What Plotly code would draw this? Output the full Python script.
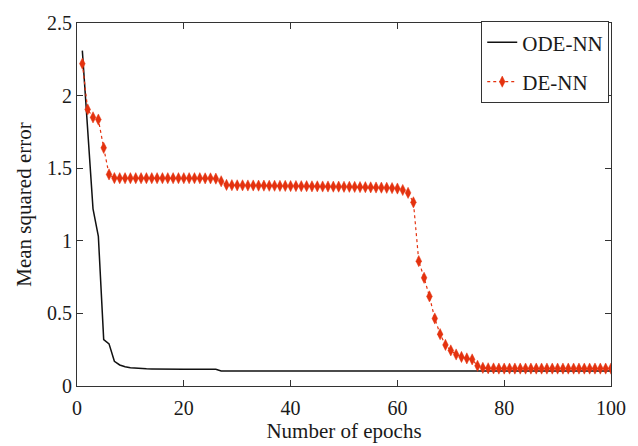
import plotly.graph_objects as go

epochs = list(range(1, 101))

ode_nn = [
    2.31, 1.77, 1.22, 1.03, 0.32, 0.29, 0.17, 0.145, 0.132, 0.125,
    0.121, 0.119, 0.118, 0.117, 0.116, 0.115, 0.115, 0.115, 0.115, 0.115,
    0.115, 0.115, 0.115, 0.115, 0.115, 0.115, 0.104, 0.104, 0.104, 0.104,
    0.104, 0.104, 0.104, 0.104, 0.104, 0.104, 0.104, 0.104, 0.104, 0.104,
    0.104, 0.104, 0.104, 0.104, 0.104, 0.104, 0.104, 0.104, 0.104, 0.104,
    0.104, 0.104, 0.104, 0.104, 0.104, 0.104, 0.104, 0.104, 0.104, 0.104,
    0.104, 0.104, 0.104, 0.104, 0.104, 0.104, 0.104, 0.104, 0.104, 0.104,
    0.104, 0.104, 0.104, 0.104, 0.104, 0.104, 0.104, 0.104, 0.104, 0.104,
    0.104, 0.104, 0.104, 0.104, 0.104, 0.104, 0.104, 0.104, 0.104, 0.104,
    0.104, 0.104, 0.104, 0.104, 0.104, 0.104, 0.104, 0.104, 0.104, 0.104,
]

de_nn = [
    2.22, 1.905, 1.85, 1.835, 1.64, 1.457, 1.432, 1.431, 1.431, 1.431,
    1.431, 1.431, 1.431, 1.431, 1.431, 1.431, 1.431, 1.431, 1.431, 1.431,
    1.431, 1.431, 1.431, 1.430, 1.430, 1.428, 1.410, 1.385, 1.383, 1.382,
    1.382, 1.381, 1.381, 1.380, 1.380, 1.379, 1.379, 1.378, 1.378, 1.377,
    1.377, 1.376, 1.376, 1.375, 1.375, 1.374, 1.374, 1.373, 1.373, 1.372,
    1.372, 1.371, 1.370, 1.369, 1.368, 1.367, 1.366, 1.365, 1.363, 1.360,
    1.350, 1.330, 1.265, 0.860, 0.745, 0.617, 0.465, 0.357, 0.283, 0.245,
    0.217, 0.200, 0.190, 0.183, 0.139, 0.125, 0.122, 0.121, 0.120, 0.120,
    0.120, 0.120, 0.120, 0.120, 0.120, 0.120, 0.120, 0.120, 0.120, 0.120,
    0.120, 0.120, 0.120, 0.120, 0.120, 0.120, 0.120, 0.120, 0.120, 0.120,
]

x_ticks = [0, 20, 40, 60, 80, 100]
y_ticks = [0, 0.5, 1, 1.5, 2, 2.5]
y_tick_text = ["0", "0.5", "1", "1.5", "2", "2.5"]

FONT = "Liberation Serif, Times New Roman, serif"
RED = "#E4320F"

fig = go.Figure()
fig.add_trace(go.Scatter(
    x=epochs, y=ode_nn, mode="lines", name="ODE-NN",
    line=dict(color="#111111", width=1.5), legendgroup="a",
))
fig.add_trace(go.Scatter(
    x=epochs, y=de_nn, mode="lines+markers", name="DE-NN",
    line=dict(color=RED, width=1.2, dash="dot"),
    marker=dict(symbol="diamond-tall", size=8, color=RED,
                line=dict(color=RED, width=0.5)),
    legendgroup="b",
))

axis_common = dict(
    showline=True, linecolor="#333333", linewidth=1.2, mirror="ticks",
    ticks="inside", ticklen=6, tickcolor="#333333", tickwidth=1.2,
    showgrid=False, zeroline=False,
    tickfont=dict(family=FONT, size=20, color="#1a1a1a"),
)

fig.update_layout(
    width=638, height=446,
    margin=dict(l=77, r=26, t=12, b=58),
    paper_bgcolor="white", plot_bgcolor="white",
    font=dict(family=FONT, size=21, color="#1a1a1a"),
    xaxis=dict(range=[0, 100], tickvals=x_ticks, ticklabelstandoff=4,
               title=dict(text="Number of epochs", font=dict(family=FONT, size=21), standoff=0),
               **axis_common),
    yaxis=dict(range=[0, 2.5], tickvals=y_ticks, ticktext=y_tick_text,
               title=dict(text="Mean squared error", font=dict(family=FONT, size=21), standoff=9),
               **axis_common),
    legend=dict(
        x=0.757, y=1.005, xanchor="left", yanchor="top",
        bordercolor="#333333", borderwidth=1, bgcolor="white",
        font=dict(family=FONT, size=21, color="#1a1a1a"),
        tracegroupgap=9, traceorder="grouped",
    ),
    showlegend=True,
)

fig.write_html("out.html")
